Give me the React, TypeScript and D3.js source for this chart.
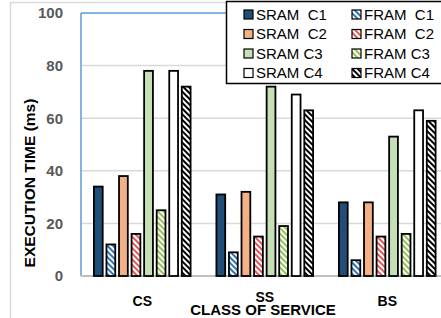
import React, { useEffect, useRef } from 'react';
import * as d3 from 'd3';

const categories = ['CS', 'SS', 'BS'];
const seriesNames = ['SRAM  C1', 'FRAM  C1', 'SRAM  C2', 'FRAM  C2', 'SRAM C3', 'FRAM C3', 'SRAM C4', 'FRAM C4'];
const seriesColors = ['#1F4E79', '#2E75B6', '#F4B183', '#E05858', '#C5E0B4', '#92C353', '#FFFFFF', '#000000'];
const hatched = [false, true, false, true, false, true, false, true];
// values per series, in category order CS, SS, BS
const sramC1 = [34, 31, 28];
const framC1 = [12, 9, 6];
const sramC2 = [38, 32, 28];
const framC2 = [16, 15, 15];
const sramC3 = [78, 72, 53];
const framC3 = [25, 19, 16];
const sramC4 = [78, 69, 63];
const framC4 = [72, 63, 59];
const seriesValues = [sramC1, framC1, sramC2, framC2, sramC3, framC3, sramC4, framC4];
const yTicks = [0, 20, 40, 60, 80, 100];

const W = 441;
const H = 318;

const App: React.FC = () => {
  const svgRef = useRef<SVGSVGElement>(null);

  useEffect(() => {
    if (!svgRef.current) return;
    const svg = d3.select(svgRef.current);
    svg.selectAll('*').remove();

    const left = 81, right = 448.5, top = 13, bottom = 276;

    // hatch patterns
    const defs = svg.append('defs');
    seriesNames.forEach((s, i) => {
      if (!hatched[i]) return;
      const black = seriesColors[i] === '#000000';
      const p = defs.append('pattern')
        .attr('id', `hatch${i}`)
        .attr('patternUnits', 'userSpaceOnUse')
        .attr('width', 4)
        .attr('height', 4)
        .attr('patternTransform', 'rotate(-45)');
      p.append('rect').attr('width', 4).attr('height', 4).attr('fill', black ? '#000' : '#fff');
      p.append('rect').attr('width', 2).attr('height', 4).attr('fill', black ? '#fff' : seriesColors[i]);
    });
    const fillOf = (i: number) => (hatched[i] ? `url(#hatch${i})` : seriesColors[i]);

    // outer chart border
    svg.append('rect')
      .attr('x', 10.5).attr('y', 2.5).attr('width', 450).attr('height', 330)
      .attr('fill', 'white').attr('stroke', '#D9D9D9').attr('stroke-width', 1.5);

    const x0 = d3.scaleBand<string>().domain(categories).range([left, right])
      .paddingInner(0.18).paddingOuter(0.09);
    const x1 = d3.scaleBand<string>().domain(seriesNames).range([0, x0.bandwidth()])
      .paddingInner(0.3).paddingOuter(0.15);
    const y = d3.scaleLinear().domain([0, 100]).range([bottom, top]);

    // gridlines
    svg.append('g').selectAll('line')
      .data(yTicks.filter(t => t > 0 && t < 100))
      .enter().append('line')
      .attr('x1', left).attr('x2', right)
      .attr('y1', d => y(d)).attr('y2', d => y(d))
      .attr('stroke', '#D9D9D9').attr('stroke-width', 1.5);

    // plot border (top + left blue)
    svg.append('line').attr('x1', left).attr('x2', right).attr('y1', y(100)).attr('y2', y(100))
      .attr('stroke', '#5B9BD5').attr('stroke-width', 1.5);
    svg.append('line').attr('x1', left).attr('x2', left).attr('y1', y(100)).attr('y2', y(0))
      .attr('stroke', '#5B9BD5').attr('stroke-width', 1.5);
    svg.append('line').attr('x1', left).attr('x2', right).attr('y1', y(0)).attr('y2', y(0))
      .attr('stroke', '#BFBFBF').attr('stroke-width', 2);

    // y tick labels
    svg.append('g').selectAll('text')
      .data(yTicks)
      .enter().append('text')
      .attr('x', 63).attr('y', d => y(d))
      .attr('dy', '0.36em')
      .attr('text-anchor', 'end')
      .style('font-family', 'Liberation Sans, Arial, sans-serif')
      .style('font-size', '15px').style('font-weight', 'bold')
      .style('fill', '#595959')
      .text(d => d);

    // bars
    const groups = svg.append('g').selectAll('g')
      .data(categories)
      .enter().append('g')
      .attr('transform', d => `translate(${x0(d)},0)`);
    groups.selectAll('rect')
      .data((c, ci) => seriesNames.map((s, si) => ({ s, si, v: seriesValues[si][ci] })))
      .enter().append('rect')
      .attr('x', d => x1(d.s) || 0)
      .attr('width', x1.bandwidth())
      .attr('y', d => y(d.v))
      .attr('height', d => y(0) - y(d.v))
      .attr('fill', d => fillOf(d.si))
      .attr('stroke', '#000').attr('stroke-width', 1.8);

    // category labels
    const labelY = [301, 297, 301];
    svg.append('g').selectAll('text')
      .data(categories)
      .enter().append('text')
      .attr('x', d => (x0(d) || 0) + x0.bandwidth() / 2)
      .attr('y', (d, i) => labelY[i])
      .attr('dy', '0.36em')
      .attr('text-anchor', 'middle')
      .style('font-family', 'Liberation Sans, Arial, sans-serif')
      .style('font-size', '14px').style('font-weight', 'bold')
      .style('fill', '#000')
      .text(d => d);

    // axis titles
    svg.append('text')
      .attr('x', 263).attr('y', 310).attr('dy', '0.36em')
      .attr('text-anchor', 'middle')
      .style('font-family', 'Liberation Sans, Arial, sans-serif')
      .style('font-size', '15px').style('font-weight', 'bold')
      .text('CLASS OF SERVICE');
    svg.append('text')
      .attr('transform', 'translate(29,183) rotate(-90)')
      .attr('dy', '0.36em')
      .attr('text-anchor', 'middle')
      .style('font-family', 'Liberation Sans, Arial, sans-serif')
      .style('font-size', '15.5px').style('font-weight', 'bold')
      .text('EXECUTION TIME (ms)');

    // legend
    const lg = svg.append('g');
    lg.append('rect')
      .attr('x', 226.5).attr('y', 1.5).attr('width', 230).attr('height', 82)
      .attr('fill', 'white').attr('stroke', '#000').attr('stroke-width', 1.5);
    const items = lg.selectAll('g')
      .data(seriesNames.map((s, i) => ({ s, i })))
      .enter().append('g')
      .attr('transform', d => {
        const col = d.i % 2;
        const row = Math.floor(d.i / 2);
        return `translate(${col === 0 ? 244 : 352},${14.5 + row * 19.5})`;
      });
    items.append('rect')
      .attr('x', 0).attr('y', -4.5).attr('width', 9).attr('height', 9)
      .attr('fill', d => fillOf(d.i))
      .attr('stroke', '#000').attr('stroke-width', 1.2);
    items.append('text')
      .attr('x', 12).attr('y', 0).attr('dy', '0.36em')
      .style('font-family', 'Liberation Sans, Arial, sans-serif')
      .style('font-size', '15px')
      .style('white-space', 'pre')
      .style('fill', '#000')
      .text(d => d.s);
  }, []);

  return (
    <svg ref={svgRef} width={W} height={H}
      style={{ position: 'absolute', left: 0, top: 0, background: 'white' }} />
  );
};

export default App;
